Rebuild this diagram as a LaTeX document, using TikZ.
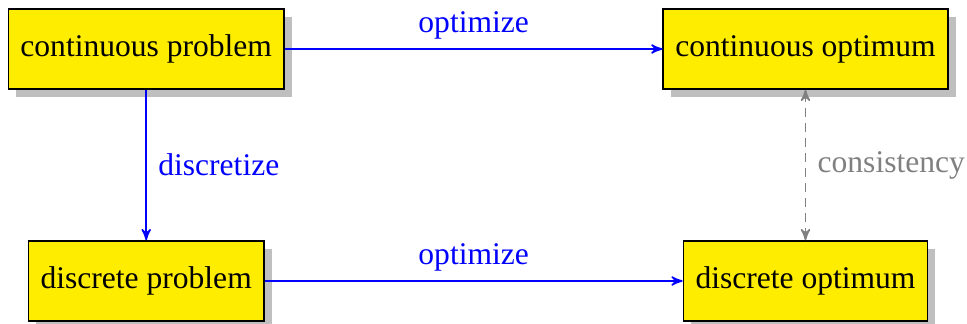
\documentclass[tikz,border=0pt]{standalone}
\usepackage{fontspec}
\setmainfont{Liberation Serif}
\usepackage{tikz}
\usetikzlibrary{arrows}
\usetikzlibrary{shadows}
\definecolor{boxyellow}{RGB}{255,237,0}
\tikzset{
  >=stealth',
  box/.style = {draw, semithick, fill=boxyellow, inner xsep=4.6pt,
    minimum height=30.4pt,
    drop shadow={shadow xshift=3pt, shadow yshift=-3pt, fill=gray!50, opacity=1}},
  step arrow/.style = {->, blue, semithick},
  check arrow/.style = {<->, gray, semithick, dash pattern=on 3.4pt off 2.3pt},
}

\begin{document}
\begin{tikzpicture}[x=0.01337cm, y=-0.01337cm, font=\fontsize{12}{14.4}\selectfont]
    \useasboundingbox (0,0) rectangle (967,324);
    \node [box] (cprob) at (146.2,49) {continuous problem};
    \node [box] (copt)  at (805.5,49) {continuous optimum};
    \node [box] (dprob) at (146.2,281) {discrete problem};
    \node [box] (dopt)  at (805.5,281) {discrete optimum};
    \draw [step arrow] (cprob) -- node [above] {optimize} (copt);
    \draw [step arrow] (cprob) -- node [right, xshift=1pt] {discretize} (dprob);
    \draw [step arrow] (dprob) -- node [above] {optimize} (dopt);
    \draw [check arrow] (copt) -- node [right, xshift=1pt] {consistency} (dopt);
\end{tikzpicture}
\end{document}
